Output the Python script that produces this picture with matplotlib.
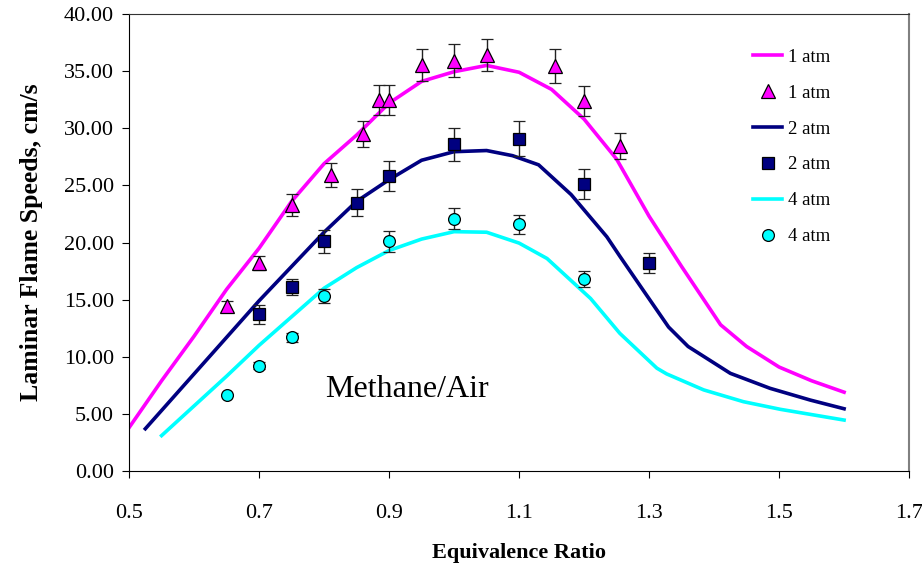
import matplotlib
matplotlib.use("Agg")
import matplotlib.pyplot as plt
from matplotlib.lines import Line2D

plt.rcParams['font.family'] = ['Liberation Serif', 'DejaVu Serif']

# model curves
x1 = [0.50, 0.55, 0.60, 0.65, 0.70, 0.75, 0.80, 0.85, 0.90, 0.95, 1.00, 1.05, 1.10,
      1.15, 1.20, 1.25, 1.30, 1.35, 1.41, 1.45, 1.50, 1.55, 1.60]
y1 = [3.8, 7.9, 11.8, 15.9, 19.5, 23.6, 26.9, 29.4, 32.2, 34.1, 34.95, 35.5, 34.9,
      33.4, 30.8, 27.3, 22.3, 17.9, 12.8, 10.9, 9.1, 7.9, 6.9]

x2 = [0.525, 0.55, 0.60, 0.65, 0.70, 0.75, 0.80, 0.85, 0.90, 0.95, 1.00, 1.05, 1.09,
      1.13, 1.18, 1.235, 1.255, 1.29, 1.33, 1.36, 1.425, 1.486, 1.548, 1.60]
y2 = [3.7, 5.3, 8.5, 11.7, 14.9, 17.9, 20.9, 23.6, 25.5, 27.2, 27.95, 28.05, 27.6,
      26.8, 24.2, 20.5, 18.8, 15.9, 12.6, 10.9, 8.55, 7.24, 6.21, 5.45]

x4 = [0.55, 0.60, 0.65, 0.70, 0.75, 0.80, 0.85, 0.90, 0.95, 1.00, 1.05, 1.10, 1.143,
      1.21, 1.255, 1.312, 1.327, 1.384, 1.445, 1.502, 1.60]
y4 = [3.1, 5.7, 8.3, 11.0, 13.5, 16.0, 17.8, 19.3, 20.3, 20.95, 20.9, 19.95, 18.6,
      15.1, 12.05, 9.0, 8.5, 7.1, 6.07, 5.4, 4.46]

# measurements
px1 = [0.65, 0.70, 0.75, 0.81, 0.86, 0.885, 0.90, 0.95, 1.00, 1.05, 1.155, 1.20, 1.255]
py1 = [14.4, 18.2, 23.3, 25.9, 29.5, 32.5, 32.5, 35.5, 35.9, 36.4, 35.45, 32.4, 28.45]
pe1 = [0.5, 0.6, 0.95, 1.05, 1.15, 1.3, 1.3, 1.4, 1.45, 1.4, 1.45, 1.3, 1.15]

px2 = [0.70, 0.75, 0.80, 0.85, 0.90, 1.00, 1.10, 1.20, 1.30]
py2 = [13.7, 16.1, 20.1, 23.5, 25.8, 28.6, 29.1, 25.1, 18.2]
pe2 = [0.8, 0.7, 1.0, 1.15, 1.3, 1.45, 1.5, 1.3, 0.9]

px4 = [0.65, 0.70, 0.75, 0.80, 0.90, 1.00, 1.10, 1.20]
py4 = [6.65, 9.2, 11.7, 15.3, 20.1, 22.1, 21.6, 16.8]
pe4 = [0.0, 0.3, 0.4, 0.6, 0.9, 0.9, 0.85, 0.7]

xticks = [0.5, 0.7, 0.9, 1.1, 1.3, 1.5, 1.7]
yticks = [0, 5, 10, 15, 20, 25, 30, 35, 40]

c1, c2, c4 = '#FF00FF', '#000080', '#00FFFF'

fig = plt.figure(figsize=(9.22, 5.74), dpi=100)
ax = fig.add_axes([0.14, 0.1794, 0.846, 0.7962])

ax.plot(x1, y1, color=c1, lw=2.6)
ax.errorbar(px1, py1, yerr=pe1, fmt='^', ms=10, mfc=c1, mec='black', mew=0.9,
            ecolor='#222222', elinewidth=1, capsize=4)
ax.plot(x2, y2, color=c2, lw=2.6)
ax.errorbar(px2, py2, yerr=pe2, fmt='s', ms=8, mfc=c2, mec='black', mew=0.9,
            ecolor='#222222', elinewidth=1, capsize=4)
ax.plot(x4, y4, color=c4, lw=2.6)
ax.errorbar(px4, py4, yerr=pe4, fmt='o', ms=8.5, mfc=c4, mec='black', mew=0.9,
            ecolor='#222222', elinewidth=1, capsize=4)

ax.set_xlim(0.5, 1.7)
ax.set_ylim(0, 40)
ax.set_xticks(xticks)
ax.set_xticklabels([str(t) for t in xticks])
ax.set_yticks(yticks)
ax.set_yticklabels(['%.2f' % t for t in yticks])
ax.tick_params(axis='x', direction='out', length=5, pad=19, labelsize=16)
ax.tick_params(axis='y', direction='out', length=5, pad=6, labelsize=16)

ax.spines['top'].set_color('#333333')
ax.spines['right'].set_color('#808080')
ax.spines['right'].set_linewidth(1.5)

ax.set_xlabel('Equivalence Ratio', fontsize=16, fontweight='bold', labelpad=14)
ax.set_ylabel('Laminar Flame Speeds, cm/s', fontsize=18.5, fontweight='bold', labelpad=15)

ax.text(0.8015, 7.1, 'Methane/Air', fontsize=23, va='center', ha='left')

handles = [
    Line2D([], [], color=c1, lw=2.6),
    Line2D([], [], ls='none', marker='^', ms=10, mfc=c1, mec='black', mew=0.9),
    Line2D([], [], color=c2, lw=2.6),
    Line2D([], [], ls='none', marker='s', ms=8, mfc=c2, mec='black', mew=0.9),
    Line2D([], [], color=c4, lw=2.6),
    Line2D([], [], ls='none', marker='o', ms=8.5, mfc=c4, mec='black', mew=0.9),
]
labels = ['1 atm', '1 atm', '2 atm', '2 atm', '4 atm', '4 atm']
ax.legend(handles, labels, loc='upper right', bbox_to_anchor=(0.899, 0.924),
          frameon=False, fontsize=13.5, handlelength=1.55, labelspacing=1.0,
          handletextpad=0.3, borderpad=0, borderaxespad=0)

fig.savefig('out.png', dpi=100)
